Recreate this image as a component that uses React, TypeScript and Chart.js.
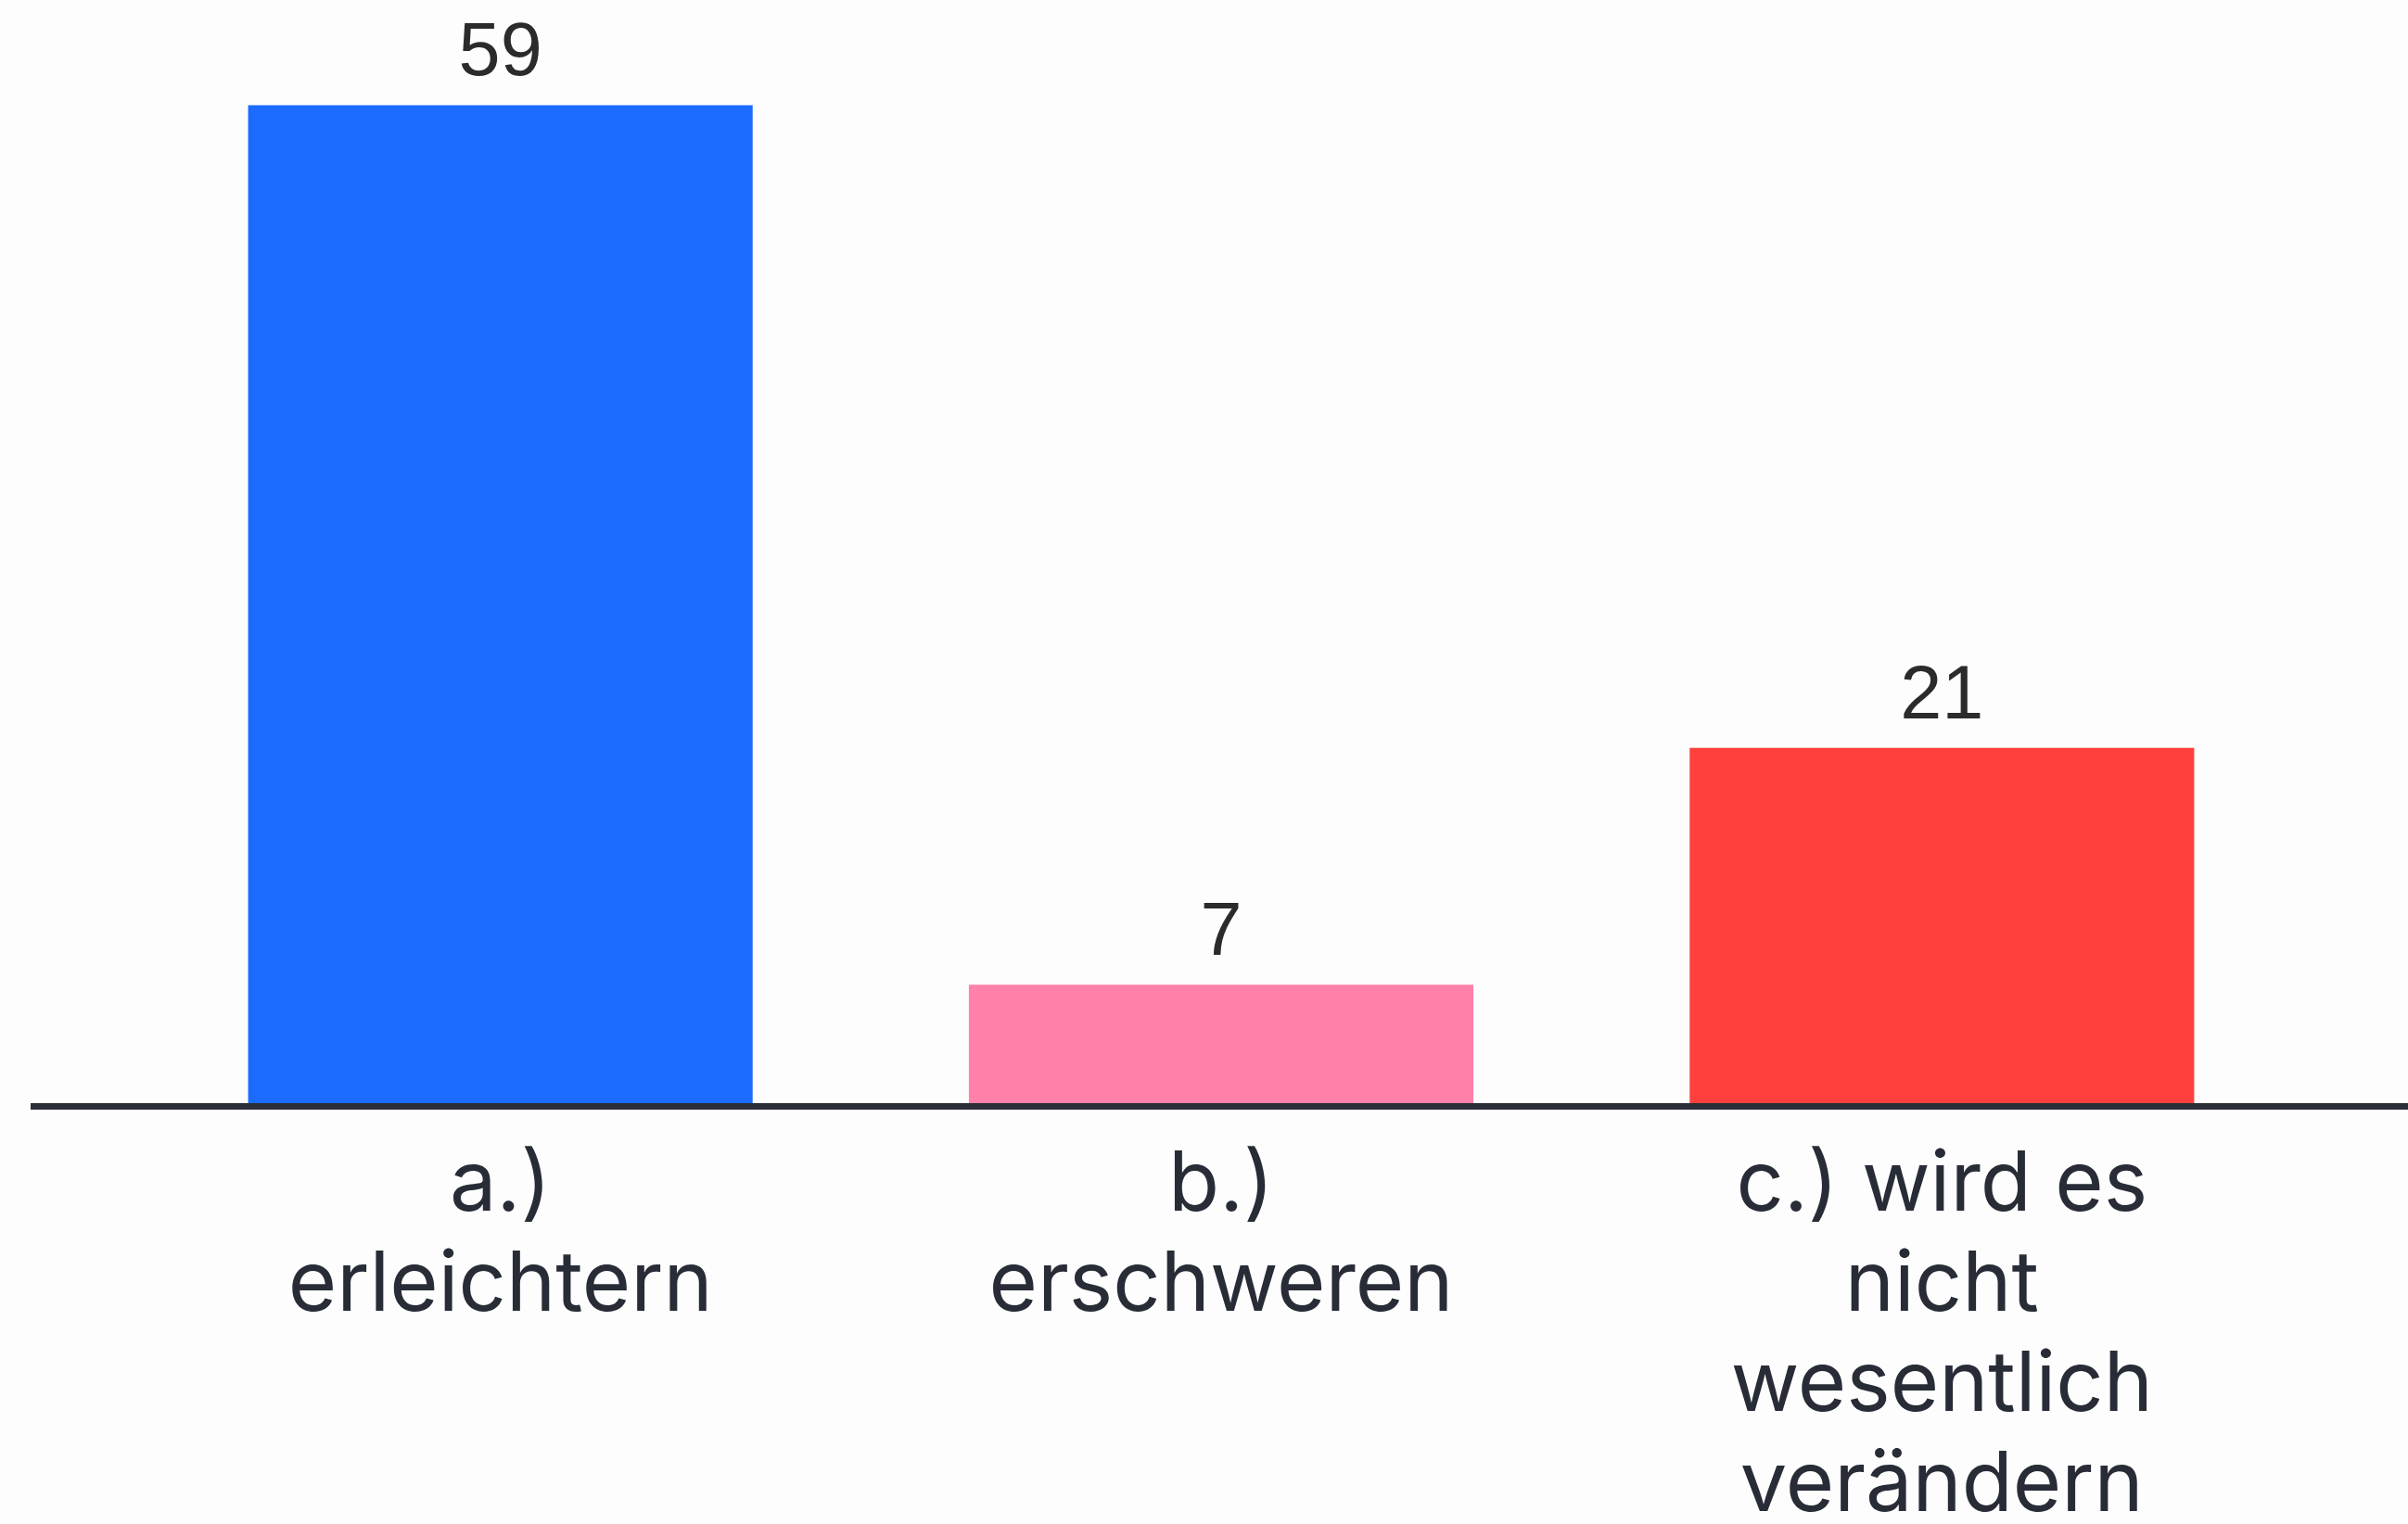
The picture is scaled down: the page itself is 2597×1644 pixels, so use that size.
import React, { useEffect, useRef } from "react";
import { Chart, registerables } from "chart.js";

Chart.register(...registerables);

const categories: string[][] = [
  ["a.)", "erleichtern"],
  ["b.)", "erschweren"],
  ["c.) wird es", "nicht", "wesentlich", "verändern"],
];
const values: number[] = [59, 7, 21];
const barColors: string[] = ["#1C6BFF", "#FF80A8", "#FF403D"];

const W = 2597;
const H = 1644;

const extrasPlugin = {
  id: "extras",
  beforeDraw(chart: any) {
    const { ctx } = chart;
    ctx.save();
    ctx.fillStyle = "#fdfdfd";
    ctx.fillRect(0, 0, chart.width, chart.height);
    ctx.restore();
  },
  afterDatasetsDraw(chart: any) {
    const { ctx } = chart;
    const y0 = chart.scales.y.getPixelForValue(0);
    ctx.save();
    ctx.strokeStyle = "#2a2e36";
    ctx.lineWidth = 7;
    ctx.beginPath();
    ctx.moveTo(33, y0 + 3.5);
    ctx.lineTo(chart.width, y0 + 3.5);
    ctx.stroke();

    const meta = chart.getDatasetMeta(0);
    ctx.fillStyle = "#2b2b2b";
    ctx.font = "81px 'Liberation Sans', Arial, sans-serif";
    ctx.textAlign = "center";
    ctx.textBaseline = "alphabetic";
    meta.data.forEach((bar: any, i: number) => {
      ctx.fillText(String(values[i]), bar.x, bar.y - 32);
    });
    ctx.restore();
  },
};

export default function App() {
  const ref = useRef<HTMLCanvasElement | null>(null);
  useEffect(() => {
    if (!ref.current) return;
    const chart = new Chart(ref.current, {
      type: "bar",
      data: {
        labels: categories,
        datasets: [
          {
            data: values,
            backgroundColor: barColors,
            borderWidth: 0,
            barPercentage: 0.7,
            categoryPercentage: 1,
          },
        ],
      },
      options: {
        animation: false,
        responsive: false,
        layout: { padding: { top: 4, left: 151, right: 114, bottom: 0 } },
        plugins: { legend: { display: false }, tooltip: { enabled: false } },
        scales: {
          x: {
            grid: { display: false, drawTicks: false },
            border: { display: false },
            ticks: {
              color: "#282c36",
              padding: 35,
              maxRotation: 0,
              autoSkip: false,
              font: { family: "Inter, 'Noto Sans', sans-serif", size: 90, lineHeight: 1.2 },
            },
            afterFit: (scale: any) => {
              scale.height = 454;
            },
          },
          y: {
            display: false,
            min: 0,
            max: 65,
          },
        },
      },
      plugins: [extrasPlugin],
    });
    return () => chart.destroy();
  }, []);
  return (
    <div style={{ position: "absolute", left: 0, top: 0, width: W, height: H, overflow: "hidden" }}>
      <canvas ref={ref} width={W} height={H} style={{ display: "block", width: W, height: H }} />
    </div>
  );
}
